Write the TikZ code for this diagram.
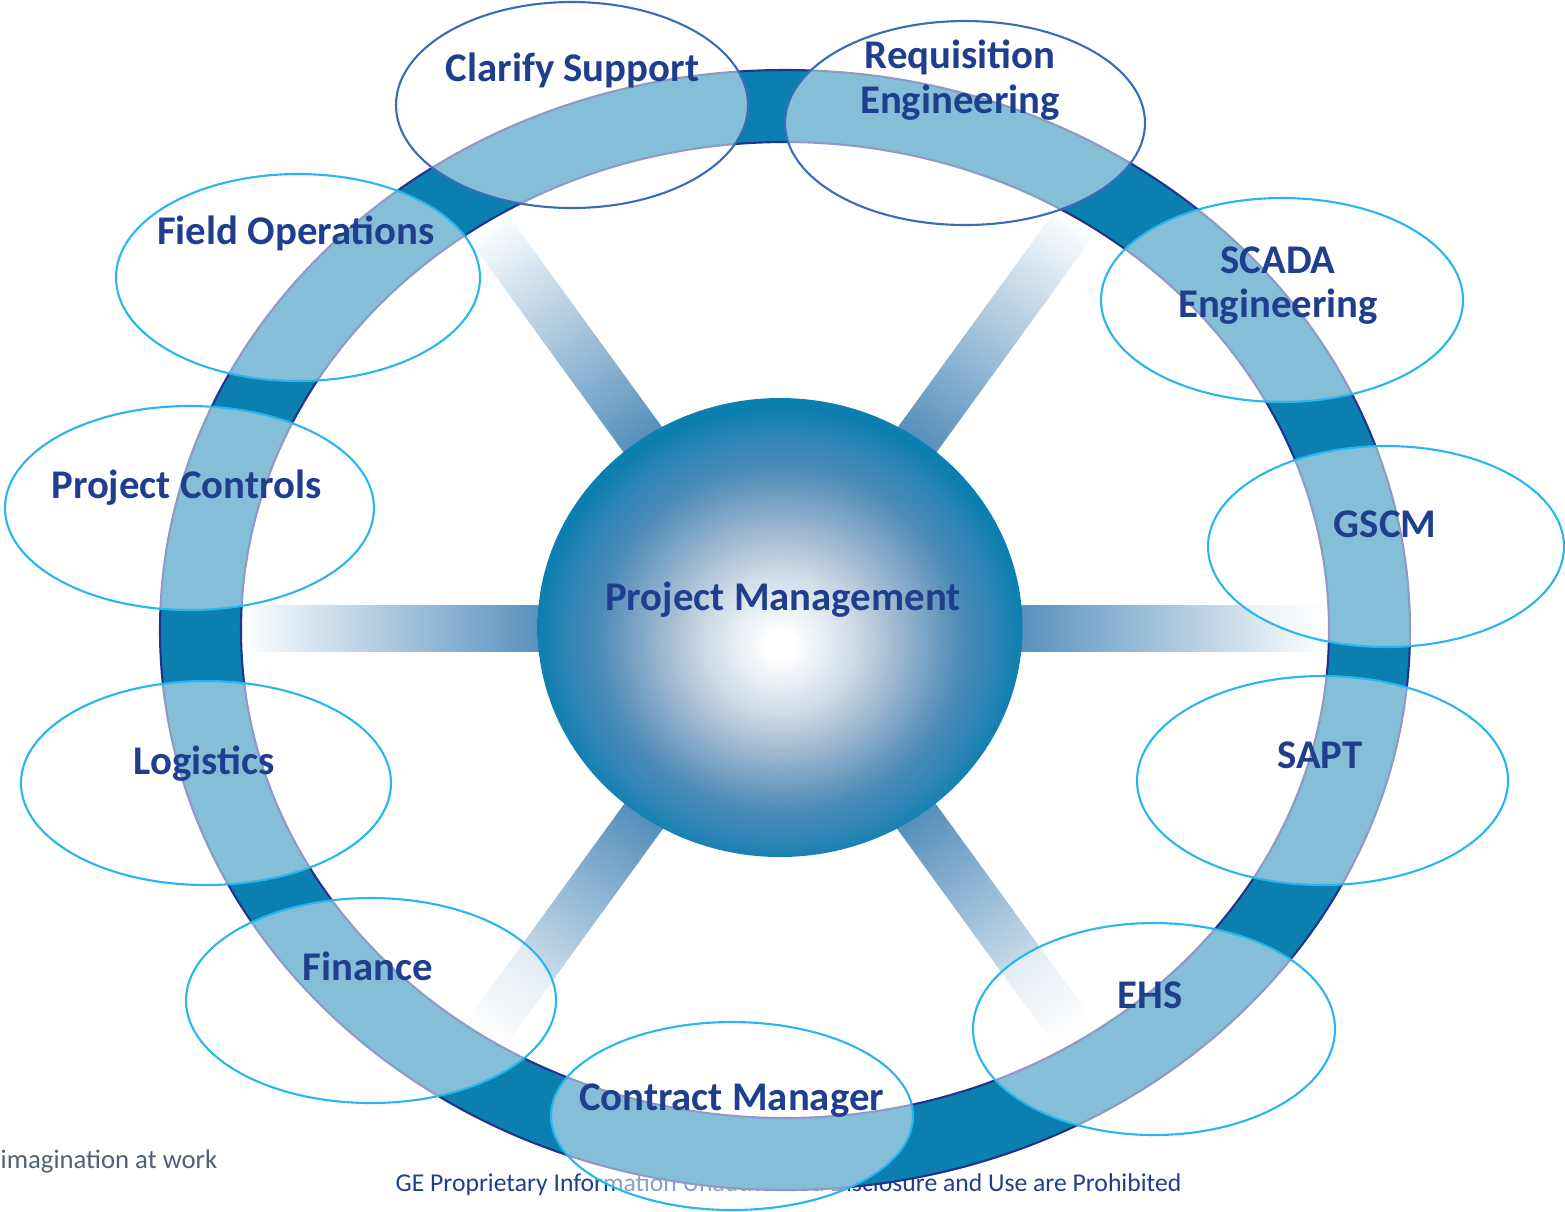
\documentclass[tikz,border=0pt]{standalone}
\usepackage{fontspec}
\setmainfont{Carlito}
\usepackage{tikz}
\usetikzlibrary{shapes.geometric,positioning,calc}
\definecolor{ringblue}{RGB}{11,127,176}
\definecolor{ringedge}{RGB}{32,52,140}
\definecolor{labelblue}{RGB}{31,62,142}
\definecolor{bubbleline}{RGB}{41,182,238}
\definecolor{bubbledark}{RGB}{58,108,184}
\definecolor{spokeblue}{RGB}{66,130,180}
\definecolor{hubinner}{RGB}{208,220,232}
\definecolor{hubmid}{RGB}{154,181,206}
\definecolor{hubouter}{RGB}{79,140,184}
\definecolor{hubrim}{RGB}{42,132,181}
\definecolor{taggray}{RGB}{80,96,122}
\pgfdeclareradialshading{hubshade}{\pgfpoint{0bp}{-2bp}}{color(0bp)=(white); color(1.5bp)=(white); color(7.5bp)=(hubinner); color(12.5bp)=(hubmid); color(18.5bp)=(hubouter); color(22.5bp)=(hubrim); color(25bp)=(ringblue); color(50bp)=(ringblue)}

\begin{document}
\begin{tikzpicture}[
    bubble/.style={ellipse, draw=bubbleline, line width=0.6pt, fill=white, fill opacity=0.5, draw opacity=1, inner sep=0pt, outer sep=0pt},
    topbubble/.style={bubble, draw=bubbledark},
    lbl/.style={font=\fontsize{11.6}{12.6}\selectfont\bfseries, text=labelblue, align=center, inner sep=0pt},
    footer/.style={font=\fontsize{7.3}{8}\selectfont, text=labelblue, inner sep=0pt},
    tagline/.style={font=\fontsize{7.6}{9}\selectfont, text=taggray, inner sep=0pt},
    spoke/.style={left color=spokeblue, right color=white}
]
    \useasboundingbox[fill=white] (0,0) rectangle (15.65,-12.11);

    % footer lines, partly hidden by the ring
    \node[footer, anchor=base west] (legal) at (3.95,-11.91) {GE Proprietary Information Unauthorized Disclosure and Use are Prohibited};
    \node[tagline, anchor=base west] (imagination) at (0.0,-11.68) {imagination at work};

    % spokes
    \coordinate (hub) at (7.80,-6.285);
    \foreach \ang/\len in {0/5.45, 54/5.05, 126/5.0, 180/5.4, 234/5.05, 306/5.0} {
        \begin{scope}[transform canvas={rotate around={\ang:(hub)}}]
            \shade[spoke] ($(hub)+(2.0,-0.23)$) rectangle ($(hub)+(\len,0.23)$);
        \end{scope}
    }

    % ring
    \filldraw[fill=ringblue, draw=ringedge, line width=0.6pt, even odd rule]
        (7.85,-6.30) ellipse [x radius=6.25, y radius=5.60]
        (7.85,-6.30) ellipse [x radius=5.44, y radius=4.88];

    % hub
    \node[ellipse, minimum width=4.85cm, minimum height=4.59cm, inner sep=0pt, shade, shading=hubshade] (pm) at (7.80,-6.275) {};
    \node[lbl, anchor=base] (pmtext) at (7.83,-6.10) {Project Management};

    % bubbles
    \foreach \name/\x/\y/\w/\h/\kind in {
        clarify/5.72/-1.05/3.52/2.06/topbubble,
        requisition/9.65/-1.23/3.60/2.04/topbubble,
        scada/12.82/-3.00/3.62/2.04/bubble,
        gscm/13.86/-5.465/3.56/2.01/bubble,
        sapt/13.225/-7.805/3.71/2.09/bubble,
        ehs/11.54/-10.29/3.62/2.12/bubble,
        contract/7.32/-11.16/3.62/1.88/bubble,
        finance/3.71/-10.005/3.70/2.05/bubble,
        logistics/2.06/-7.83/3.70/2.04/bubble,
        controls/1.895/-5.08/3.69/2.04/bubble,
        field/2.98/-2.775/3.64/2.07/bubble}
        \node[\kind, minimum width=\w cm, minimum height=\h cm] (\name) at (\x,\y) {};

    % labels
    \node[lbl, anchor=base] (clarifytext) at (5.725,-0.81) {Clarify Support};
    \node[lbl] (requisitiontext) at (9.60,-0.80) {Requisition\\Engineering};
    \node[lbl] (scadatext) at (12.78,-2.855) {SCADA\\Engineering};
    \node[lbl, anchor=base] (gscmtext) at (13.85,-5.37) {GSCM};
    \node[lbl, anchor=base] (sapttext) at (13.20,-7.68) {SAPT};
    \node[lbl, anchor=base] (ehstext) at (11.50,-10.08) {EHS};
    \node[lbl, anchor=base] (contracttext) at (7.315,-11.10) {Contract Manager};
    \node[lbl, anchor=base] (financetext) at (3.68,-9.80) {Finance};
    \node[lbl, anchor=base] (logisticstext) at (2.04,-7.74) {Logistics};
    \node[lbl, anchor=base] (controlstext) at (1.865,-4.98) {Project Controls};
    \node[lbl, anchor=base] (fieldtext) at (2.96,-2.44) {Field Operations};
\end{tikzpicture}
\end{document}
